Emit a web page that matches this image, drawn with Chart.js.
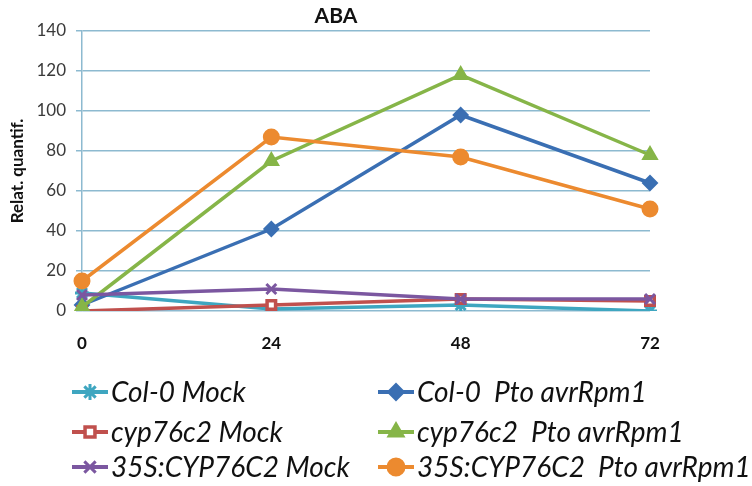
<!DOCTYPE html>
<html>
<head>
<meta charset="utf-8">
<script src="https://cdn.jsdelivr.net/npm/chart.js"></script>
<style>
html,body{margin:0;padding:0;background:#fff;}
#wrap{width:752px;height:486px;position:relative;}
</style>
</head>
<body>
<div id="wrap"><canvas id="c" width="752" height="486"></canvas></div>
<script>
// ---- data ----
const timePoints = ['0', '24', '48', '72'];
const seriesNames = [
  'Col-0 Mock', 'Col-0  Pto avrRpm1',
  'cyp76c2 Mock', 'cyp76c2  Pto avrRpm1',
  '35S:CYP76C2 Mock', '35S:CYP76C2  Pto avrRpm1'
];
const col0Mock = [9, 1, 3, 0];
const col0Pto = [3, 41, 98, 64];
const cypMock = [0, 3, 6, 5];
const cypPto = [2, 75, 118, 78];
const s35Mock = [8, 11, 6, 6];
const s35Pto = [15, 87, 77, 51];
const yTicks = [0, 20, 40, 60, 80, 100, 120, 140];

const colors = ['#3ea6c0', '#3a6fb3', '#c0504d', '#86b548', '#7b57a0', '#ec8a2f'];
const styles = ['star', 'rectRot', 'rect', 'triangle', 'crossRot', 'circle'];
const values = [col0Mock, col0Pto, cypMock, cypPto, s35Mock, s35Pto];
const fills = [colors[0], colors[1], '#ffffff', colors[3], colors[4], colors[5]];
const radii = [7, 7, 6, 8, 7, 7.5];
const bws = [3, 2, 3.5, 2, 3, 2];
const orders = [6, 5, 4, 3, 1, 2];

const datasets = values.map((v, i) => ({
  label: seriesNames[i],
  data: v,
  borderColor: colors[i],
  backgroundColor: fills[i],
  pointBorderColor: colors[i],
  pointBackgroundColor: fills[i],
  pointStyle: styles[i],
  pointRadius: radii[i],
  pointBorderWidth: bws[i],
  borderWidth: 3.5,
  tension: 0,
  fill: false,
  order: orders[i]
}));

const gridColor = '#8dbad0';

const legendPlugin = {
  id: 'gridLegend',
  afterDraw(chart) {
    const ctx = chart.ctx;
    ctx.save();
    const cols = [{line: 72, text: 111}, {line: 378, text: 417}];
    const rows = [392, 432, 467];
    ctx.font = 'italic 28px Lato';
    ctx.textBaseline = 'middle';
    ctx.textAlign = 'left';
    datasets.forEach((ds, i) => {
      const c = cols[i % 2];
      const y = rows[Math.floor(i / 2)];
      ctx.strokeStyle = ds.borderColor;
      ctx.lineWidth = 4;
      ctx.beginPath();
      ctx.moveTo(c.line, y);
      ctx.lineTo(c.line + 36, y);
      ctx.stroke();
      ctx.fillStyle = ds.pointBackgroundColor;
      ctx.strokeStyle = ds.pointBorderColor;
      ctx.lineWidth = ds.pointBorderWidth;
      if (Chart.helpers && Chart.helpers.drawPoint) {
        Chart.helpers.drawPoint(ctx, {pointStyle: ds.pointStyle, radius: ds.pointRadius + 1, rotation: 0, borderWidth: ds.pointBorderWidth}, c.line + 18, y);
      }
      ctx.fillStyle = '#111';
      ctx.fillText(ds.label, c.text, y + 1);
    });
    // title
    ctx.font = 'bold 21px Lato';
    ctx.textAlign = 'center';
    ctx.fillStyle = '#111';
    ctx.fillText('ABA', 336, 16);
    ctx.restore();
  }
};

new Chart(document.getElementById('c'), {
  type: 'line',
  data: { labels: timePoints, datasets: datasets },
  options: {
    responsive: false,
    animation: false,
    devicePixelRatio: 1,
    layout: { padding: { left: 0, right: 102, top: 31, bottom: 0 } },
    plugins: { legend: { display: false }, title: { display: false }, tooltip: { enabled: false } },
    scales: {
      x: {
        type: 'category',
        offset: false,
        grid: { display: false },
        border: { display: false },
        ticks: { color: '#111', font: { family: 'Lato', size: 17, weight: 'bold' }, padding: 14, maxRotation: 0 },
        afterFit(s) { s.height = 175; }
      },
      y: {
        min: 0, max: 140,
        afterBuildTicks(s) { s.ticks = yTicks.map(v => ({ value: v })); },
        grid: { color: gridColor, lineWidth: 1.5, tickLength: 6, drawTicks: true },
        border: { display: true, color: gridColor, width: 1.5 },
        ticks: { color: '#3a3a3a', font: { family: 'Lato', size: 17 }, padding: 10 },
        title: { display: true, text: 'Relat. quantif.', color: '#111', font: { family: 'Lato', size: 17, weight: 'bold' }, padding: { top: 7, bottom: 0 } },
        afterFit(s) { s.width = 82; }
      }
    }
  },
  plugins: [legendPlugin]
});
</script>
</body>
</html>
